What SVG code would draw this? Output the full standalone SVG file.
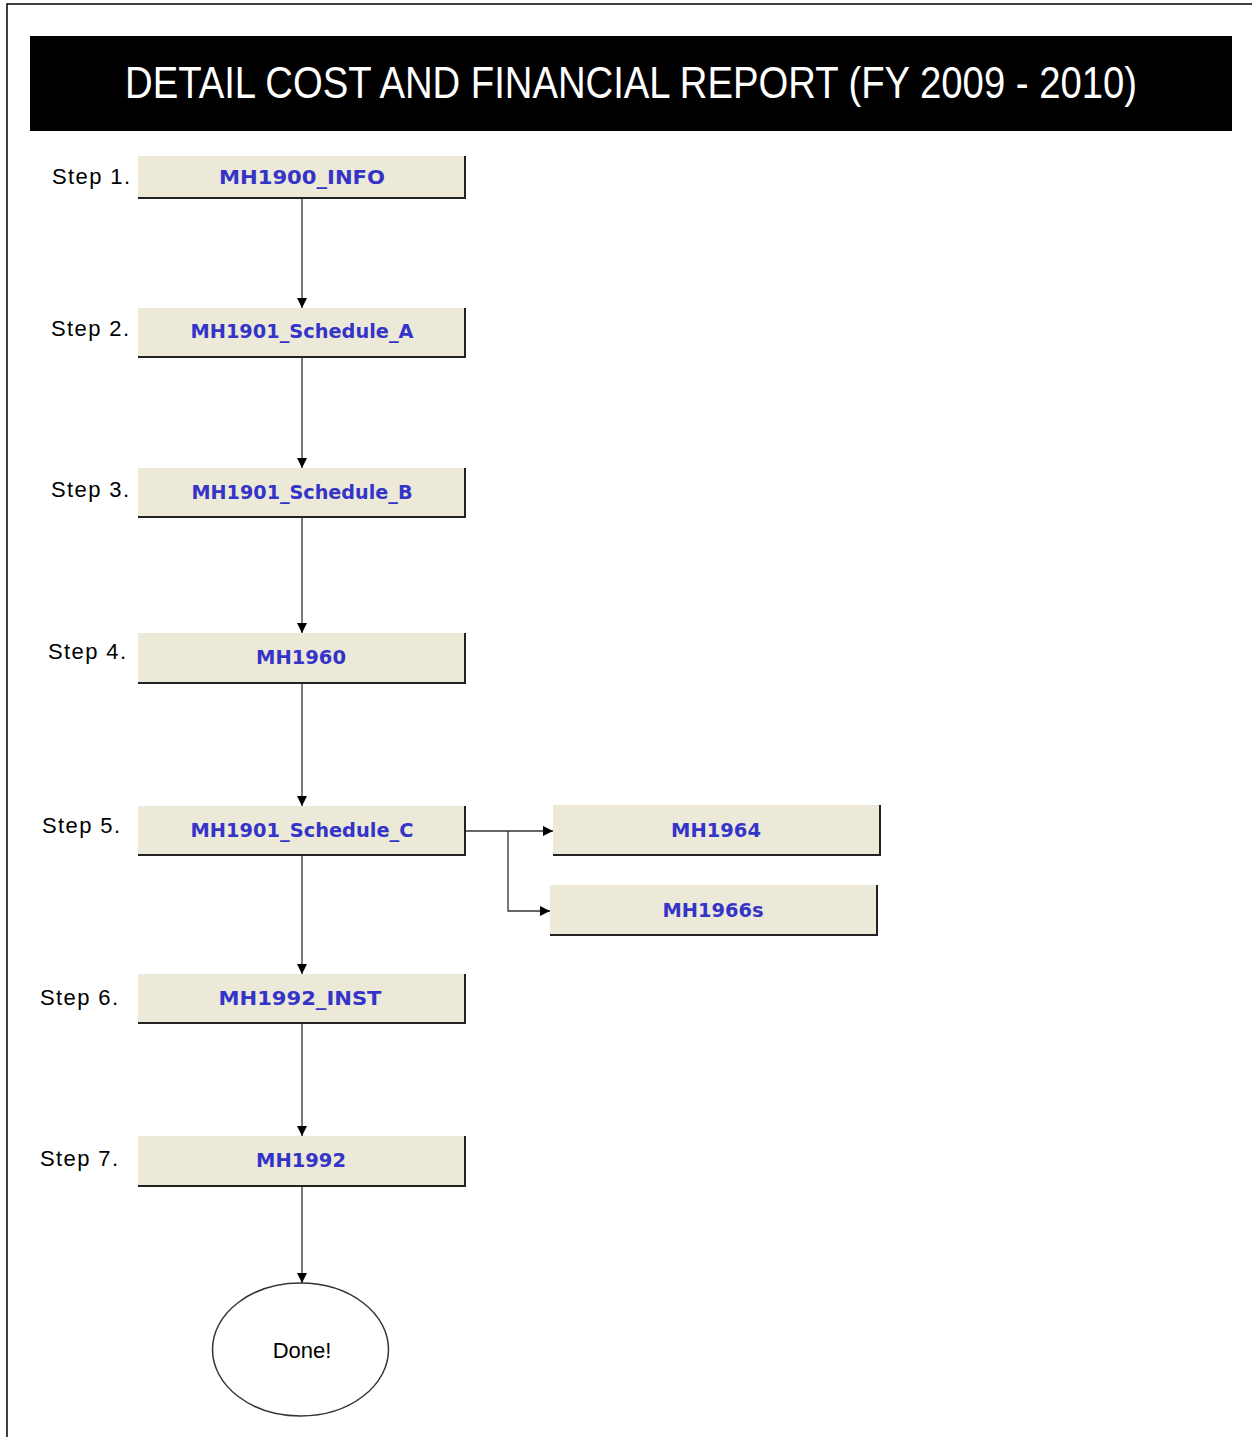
<svg xmlns="http://www.w3.org/2000/svg" width="1252" height="1437" viewBox="0 0 1252 1437">
  <defs>
    <marker id="arrow" viewBox="0 0 10 10" refX="10" refY="5" markerWidth="10" markerHeight="10" markerUnits="userSpaceOnUse" orient="auto">
      <path d="M0,0 L10,5 L0,10 z" fill="#000"/>
    </marker>
    <style>
      .box { fill: #ECE9D8; }
      .shade { stroke: #222; stroke-width: 2; fill: none; }
      .label { font-family: "DejaVu Sans", "Liberation Sans", sans-serif; font-weight: bold; font-size: 19px; fill: #3434C8; text-anchor: middle; dominant-baseline: central; }
      .step { font-family: "Liberation Sans", Arial, sans-serif; font-size: 22px; fill: #000; letter-spacing: 1.4px; }
      .edge { stroke: #333; stroke-width: 1.3; fill: none; marker-end: url(#arrow); }
    </style>
  </defs>

  <rect width="1252" height="1437" fill="#fff"/>
  <!-- page frame -->
  <path d="M7,1437 V4 H1252" stroke="#000" stroke-width="1.5" fill="none"/>

  <!-- title banner -->
  <g id="title">
    <rect x="30" y="36" width="1202" height="95" fill="#000"/>
    <text transform="translate(125,98) scale(1,1.18)" x="0" y="0" font-family="Liberation Sans, Arial, sans-serif" font-size="38" fill="#fff" textLength="1012" lengthAdjust="spacingAndGlyphs">DETAIL COST AND FINANCIAL REPORT (FY 2009 - 2010)</text>
  </g>

  <!-- step captions -->
  <g id="steps">
    <text class="step" x="52" y="184">Step 1.</text>
    <text class="step" x="51" y="336">Step 2.</text>
    <text class="step" x="51" y="497">Step 3.</text>
    <text class="step" x="48" y="659">Step 4.</text>
    <text class="step" x="42" y="833">Step 5.</text>
    <text class="step" x="40" y="1005">Step 6.</text>
    <text class="step" x="40" y="1166">Step 7.</text>
  </g>

  <!-- connectors -->
  <g id="connectors">
    <line class="edge" x1="302" y1="199" x2="302" y2="308"/>
    <line class="edge" x1="302" y1="358" x2="302" y2="468"/>
    <line class="edge" x1="302" y1="518" x2="302" y2="633"/>
    <line class="edge" x1="302" y1="684" x2="302" y2="806"/>
    <line class="edge" x1="302" y1="856" x2="302" y2="974"/>
    <line class="edge" x1="302" y1="1024" x2="302" y2="1136"/>
    <line class="edge" x1="302" y1="1187" x2="302" y2="1283"/>
    <path class="edge" d="M466,831 H553"/>
    <path class="edge" d="M508,831 V911 H550"/>
  </g>

  <g id="n1">
    <rect class="box" x="138" y="156" width="328" height="43"/>
    <path class="shade" d="M465,156 V198 H138"/>
    <text class="label" x="302" y="177" textLength="166" lengthAdjust="spacingAndGlyphs">MH1900_INFO</text>
  </g>
  <g id="n2">
    <rect class="box" x="138" y="308" width="328" height="50"/>
    <path class="shade" d="M465,308 V357 H138"/>
    <text class="label" x="302" y="331" textLength="223" lengthAdjust="spacingAndGlyphs">MH1901_Schedule_A</text>
  </g>
  <g id="n3">
    <rect class="box" x="138" y="468" width="328" height="50"/>
    <path class="shade" d="M465,468 V517 H138"/>
    <text class="label" x="302" y="492" textLength="221" lengthAdjust="spacingAndGlyphs">MH1901_Schedule_B</text>
  </g>
  <g id="n4">
    <rect class="box" x="138" y="633" width="328" height="51"/>
    <path class="shade" d="M465,633 V683 H138"/>
    <text class="label" x="301" y="657" textLength="90" lengthAdjust="spacingAndGlyphs">MH1960</text>
  </g>
  <g id="n5">
    <rect class="box" x="138" y="806" width="328" height="50"/>
    <path class="shade" d="M465,806 V855 H138"/>
    <text class="label" x="302" y="830" textLength="223" lengthAdjust="spacingAndGlyphs">MH1901_Schedule_C</text>
  </g>
  <g id="n5a">
    <rect class="box" x="553" y="805" width="328" height="51"/>
    <path class="shade" d="M880,805 V855 H553"/>
    <text class="label" x="716" y="830" textLength="90" lengthAdjust="spacingAndGlyphs">MH1964</text>
  </g>
  <g id="n5b">
    <rect class="box" x="550" y="885" width="328" height="51"/>
    <path class="shade" d="M877,885 V935 H550"/>
    <text class="label" x="713" y="910" textLength="101" lengthAdjust="spacingAndGlyphs">MH1966s</text>
  </g>
  <g id="n6">
    <rect class="box" x="138" y="974" width="328" height="50"/>
    <path class="shade" d="M465,974 V1023 H138"/>
    <text class="label" x="300" y="998" textLength="163" lengthAdjust="spacingAndGlyphs">MH1992_INST</text>
  </g>
  <g id="n7">
    <rect class="box" x="138" y="1136" width="328" height="51"/>
    <path class="shade" d="M465,1136 V1186 H138"/>
    <text class="label" x="301" y="1160" textLength="90" lengthAdjust="spacingAndGlyphs">MH1992</text>
  </g>
  <g id="done">
    <ellipse cx="300.5" cy="1349.5" rx="88" ry="66.5" fill="#fff" stroke="#333" stroke-width="1.5"/>
    <text x="302" y="1358" font-family="Liberation Sans, Arial, sans-serif" font-size="22" text-anchor="middle" fill="#000">Done!</text>
  </g>
</svg>
